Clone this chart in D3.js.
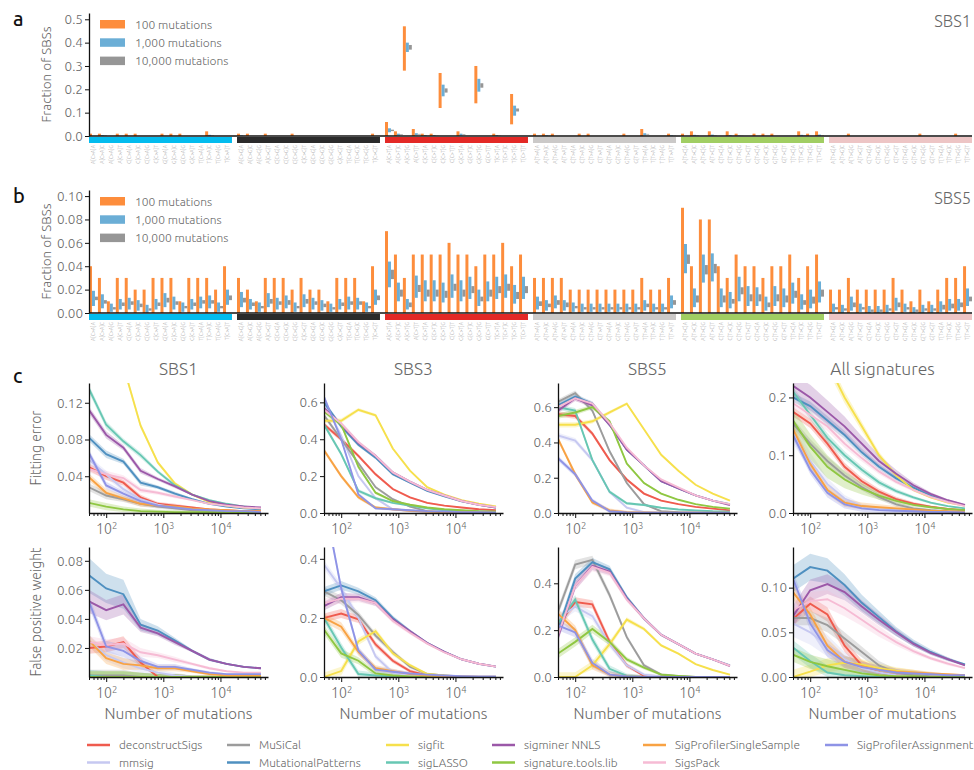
<!doctype html>
<html lang="en">
<head>
<meta charset="utf-8">
<script src="https://cdn.jsdelivr.net/npm/d3@7"></script>
<style>
  body { margin: 0; background: #fff; }
  text { font-family: Ubuntu, "Open Sans", "DejaVu Sans", sans-serif; font-weight: 300; }
</style>
</head>
<body>
<svg id="chart" width="974" height="770"></svg>
<script>
// ---- spectrum data (panels a, b) ----
var mutTypes = ["C>A", "C>G", "C>T", "T>A", "T>C", "T>G"];
var mutColors = ["#03bcee", "#2b2b2b", "#e32926", "#cbc9c8", "#a1ce63", "#edc5c5"];
var bases = ["A", "C", "G", "T"];
var sampleLabels = ["100 mutations", "1,000 mutations", "10,000 mutations"];
var sampleColors = ["#fd8d3c", "#6baed6", "#969696"];

// SBS1, ranges per category for 100 / 1,000 / 10,000 mutations
var sbs1Lo100 = [
  0,0,0,0,0,0,0,0,0,0,0,0,0,0,0,0,
  0,0,0,0,0,0,0,0,0,0,0,0,0,0,0,0,
  0,0,0.28,0,0,0,0.12,0,0,0,0.14,0,0,0,0.05,0,
  0,0,0,0,0,0,0,0,0,0,0,0,0,0,0,0,
  0,0,0,0,0,0,0,0,0,0,0,0,0,0,0,0,
  0,0,0,0,0,0,0,0,0,0,0,0,0,0,0,0];
var sbs1Hi100 = [
  0.01,0.01,0,0.01,0.01,0.01,0,0,0.01,0.01,0.01,0,0,0.02,0,0,
  0.01,0.01,0,0.01,0,0,0.01,0,0,0,0,0,0,0,0,0.01,
  0.06,0.02,0.47,0.03,0.01,0.01,0.27,0,0.02,0,0.30,0,0.01,0,0.18,0,
  0.01,0.01,0.01,0,0,0.01,0.01,0,0,0,0.01,0,0.03,0,0,0.01,
  0.01,0.02,0,0.02,0,0.02,0.01,0,0.01,0.01,0.01,0,0,0.02,0.01,0.02,
  0,0,0.01,0,0,0,0,0,0,0,0.01,0,0,0,0.01,0];
var sbs1Lo1k = [
  0,0,0,0,0,0,0,0,0,0,0,0,0,0,0,0,
  0,0,0,0,0,0,0,0,0,0,0,0,0,0,0,0,
  0.016,0.002,0.36,0.003,0,0,0.17,0,0.002,0,0.19,0,0,0,0.087,0,
  0,0,0,0,0,0,0,0,0,0,0,0,0.003,0,0,0,
  0,0,0,0,0,0,0,0,0,0,0,0,0,0,0,0,
  0,0,0,0,0,0,0,0,0,0,0,0,0,0,0,0];
var sbs1Hi1k = [
  0,0.004,0,0,0,0,0,0,0,0,0,0,0,0.005,0,0,
  0.003,0,0,0,0,0,0,0,0,0,0,0,0,0,0,0,
  0.033,0.010,0.40,0.012,0.004,0.004,0.22,0,0.010,0,0.245,0,0.004,0,0.13,0,
  0,0.003,0,0,0,0,0,0,0,0,0,0,0.012,0,0,0.003,
  0,0.005,0,0.006,0,0.004,0.002,0,0,0,0,0,0,0.005,0,0.006,
  0,0,0,0,0,0,0,0,0,0,0,0,0,0,0,0];
var sbs1Lo10k = [
  0,0.001,0,0,0,0,0,0,0,0,0,0,0,0.001,0,0,
  0,0,0,0,0,0,0,0,0,0,0,0,0,0,0,0,
  0.021,0.004,0.37,0.006,0.001,0.001,0.186,0,0.004,0,0.207,0,0.001,0,0.105,0,
  0,0,0,0,0,0,0,0,0,0,0,0,0.006,0,0,0,
  0,0.001,0,0.002,0,0.001,0,0,0,0,0,0,0,0.001,0,0.002,
  0,0,0,0,0,0,0,0,0,0,0,0,0,0,0,0];
var sbs1Hi10k = [
  0,0.003,0,0,0,0,0,0,0,0,0,0,0,0.003,0,0,
  0.001,0,0,0,0,0,0,0,0,0,0,0,0,0,0,0,
  0.027,0.007,0.39,0.009,0.002,0.002,0.204,0,0.007,0,0.226,0,0.002,0,0.118,0,
  0,0.001,0,0,0,0,0,0,0,0,0,0,0.009,0,0,0.001,
  0,0.003,0,0.004,0,0.002,0.001,0,0,0,0,0,0,0.003,0,0.004,
  0,0,0,0,0,0,0,0,0,0,0,0,0,0,0,0];

// SBS5
var sbs5Lo100 = [
  0,0,0,0,0,0,0,0,0,0,0,0,0,0,0,0,
  0,0,0,0,0,0,0,0,0,0,0,0,0,0,0,0,
  0,0,0,0,0,0,0,0,0,0,0,0,0,0,0,0,
  0,0,0,0,0,0,0,0,0,0,0,0,0,0,0,0,
  0,0,0,0,0,0,0,0,0,0,0,0,0,0,0,0,
  0,0,0,0,0,0,0,0,0,0,0,0,0,0,0,0];
var sbs5Hi100 = [
  0.04,0.03,0.01,0.03,0.03,0.02,0.02,0.03,0.03,0.03,0.01,0.03,0.03,0.03,0.02,0.04,
  0.03,0.02,0.01,0.03,0.03,0.03,0.02,0.03,0.02,0.02,0.01,0.03,0.03,0.03,0.01,0.04,
  0.07,0.05,0.03,0.05,0.05,0.05,0.05,0.06,0.05,0.05,0.04,0.05,0.05,0.06,0.04,0.05,
  0.03,0.03,0.03,0.03,0.02,0.02,0.02,0.02,0.02,0.02,0.02,0.02,0.03,0.02,0.02,0.03,
  0.09,0.04,0.08,0.08,0.04,0.03,0.05,0.04,0.04,0.03,0.04,0.04,0.05,0.03,0.04,0.05,
  0.02,0.02,0.03,0.02,0.02,0.02,0.02,0.03,0.02,0.01,0.02,0.01,0.02,0.03,0.03,0.04];
var sbs5Lo1k = [
  0.006,0.004,0.001,0.003,0.003,0.002,0,0.003,0.005,0.003,0.001,0.003,0.004,0.004,0.001,0.007,
  0.005,0.003,0.001,0.005,0.003,0.004,0.001,0.005,0.003,0.002,0.001,0.003,0.003,0.003,0.001,0.007,
  0.022,0.010,0.003,0.013,0.010,0.010,0.009,0.013,0.010,0.012,0.006,0.010,0.012,0.013,0.008,0.012,
  0.003,0.002,0.004,0.002,0.001,0.001,0.001,0.001,0.001,0.001,0.001,0.001,0.002,0.001,0.001,0.004,
  0.034,0.005,0.026,0.027,0.005,0.004,0.010,0.006,0.006,0.002,0.006,0.005,0.008,0.003,0.004,0.009,
  0.001,0,0.002,0.001,0,0,0,0.002,0.001,0,0,0,0.001,0.002,0.002,0.006];
var sbs5Hi1k = [
  0.019,0.016,0.008,0.012,0.013,0.011,0.007,0.012,0.017,0.014,0.009,0.012,0.014,0.015,0.009,0.020,
  0.018,0.012,0.009,0.017,0.013,0.015,0.009,0.016,0.013,0.011,0.008,0.012,0.014,0.013,0.009,0.020,
  0.044,0.026,0.012,0.032,0.028,0.028,0.026,0.033,0.028,0.031,0.020,0.027,0.031,0.033,0.024,0.031,
  0.014,0.011,0.015,0.011,0.009,0.008,0.008,0.008,0.008,0.008,0.008,0.008,0.011,0.008,0.008,0.015,
  0.059,0.021,0.050,0.051,0.021,0.018,0.031,0.023,0.022,0.014,0.023,0.021,0.026,0.016,0.020,0.027,
  0.008,0.007,0.014,0.008,0.006,0.006,0.007,0.013,0.008,0.005,0.007,0.007,0.010,0.012,0.012,0.021];
var sbs5Lo10k = [
  0.011,0.008,0.003,0.006,0.007,0.005,0.002,0.006,0.009,0.007,0.004,0.006,0.008,0.008,0.004,0.011,
  0.009,0.006,0.004,0.008,0.007,0.007,0.004,0.008,0.007,0.005,0.003,0.006,0.007,0.007,0.004,0.011,
  0.029,0.014,0.005,0.018,0.014,0.014,0.013,0.019,0.014,0.017,0.010,0.014,0.017,0.019,0.012,0.017,
  0.006,0.005,0.007,0.005,0.004,0.003,0.003,0.003,0.003,0.003,0.003,0.003,0.005,0.003,0.003,0.007,
  0.042,0.009,0.033,0.034,0.009,0.008,0.016,0.010,0.010,0.005,0.010,0.009,0.013,0.007,0.008,0.014,
  0.003,0.002,0.005,0.003,0.001,0.001,0.002,0.005,0.003,0.001,0.002,0.002,0.003,0.004,0.005,0.010];
var sbs5Hi10k = [
  0.014,0.011,0.005,0.009,0.010,0.008,0.004,0.009,0.013,0.010,0.006,0.009,0.011,0.011,0.006,0.015,
  0.013,0.009,0.006,0.012,0.010,0.011,0.006,0.012,0.010,0.008,0.005,0.009,0.010,0.010,0.006,0.015,
  0.037,0.020,0.009,0.024,0.020,0.020,0.019,0.025,0.020,0.023,0.014,0.020,0.023,0.025,0.018,0.023,
  0.010,0.008,0.011,0.009,0.006,0.005,0.005,0.005,0.005,0.005,0.005,0.005,0.008,0.005,0.005,0.011,
  0.050,0.015,0.041,0.042,0.015,0.012,0.022,0.016,0.016,0.009,0.016,0.015,0.019,0.011,0.014,0.020,
  0.005,0.004,0.009,0.005,0.003,0.003,0.004,0.009,0.005,0.003,0.004,0.004,0.007,0.008,0.009,0.014];

// ---- fitting benchmark data (panel c) ----
var nMutations = [50, 100, 200, 400, 800, 1600, 3200, 6400, 12800, 25600, 51200];
var tools = ["deconstructSigs", "mmsig", "MuSiCal", "MutationalPatterns", "sigfit", "sigLASSO",
             "sigminer NNLS", "signature.tools.lib", "SigProfilerSingleSample", "SigsPack", "SigProfilerAssignment"];
var toolColors = ["#ef5b4e", "#c6c8f1", "#9c9c9c", "#4f90c0", "#f6e04c", "#67c7b3",
                  "#9b58a8", "#8fc742", "#f8a243", "#f6bbd4", "#8e93e6"];
var colTitles = ["SBS1", "SBS3", "SBS5", "All signatures"];

var fitErrSBS1 = [
  [0.050,0.040,0.033,0.017,0.010,0.008,0.006,0.004,0.003,0.002,0.002],
  [0.058,0.042,0.026,0.015,0.009,0.006,0.004,0.003,0.002,0.0015,0.001],
  [0.028,0.019,0.015,0.010,0.007,0.005,0.003,0.002,0.0015,0.001,0.001],
  [0.082,0.064,0.056,0.033,0.028,0.021,0.015,0.010,0.007,0.005,0.004],
  [0.30,0.22,0.16,0.095,0.055,0.032,0.020,0.012,0.008,0.006,0.005],
  [0.135,0.096,0.078,0.063,0.045,0.030,0.020,0.014,0.010,0.007,0.005],
  [0.112,0.085,0.071,0.046,0.037,0.029,0.020,0.013,0.009,0.007,0.006],
  [0.011,0.007,0.004,0.002,0.0015,0.001,0.001,0.001,0.001,0.001,0.001],
  [0.039,0.022,0.016,0.010,0.008,0.007,0.005,0.004,0.003,0.002,0.002],
  [0.048,0.042,0.038,0.025,0.022,0.018,0.014,0.010,0.008,0.006,0.005],
  [0.065,0.030,0.021,0.013,0.008,0.006,0.004,0.003,0.002,0.002,0.001]];
var fitErrSBS3 = [
  [0.48,0.40,0.31,0.21,0.13,0.085,0.055,0.04,0.03,0.02,0.015],
  [0.60,0.42,0.20,0.08,0.02,0.01,0.005,0.003,0.002,0.001,0.001],
  [0.53,0.40,0.27,0.14,0.075,0.035,0.01,0.005,0.003,0.002,0.002],
  [0.60,0.47,0.37,0.30,0.21,0.165,0.12,0.09,0.063,0.044,0.03],
  [0.50,0.50,0.56,0.53,0.35,0.23,0.14,0.10,0.07,0.05,0.035],
  [0.48,0.32,0.12,0.08,0.055,0.04,0.025,0.015,0.01,0.008,0.006],
  [0.57,0.48,0.38,0.31,0.22,0.17,0.125,0.095,0.065,0.045,0.03],
  [0.55,0.48,0.25,0.11,0.065,0.045,0.03,0.02,0.015,0.01,0.008],
  [0.34,0.20,0.085,0.03,0.02,0.012,0.008,0.005,0.004,0.003,0.002],
  [0.56,0.485,0.385,0.31,0.22,0.17,0.125,0.095,0.065,0.045,0.032],
  [0.63,0.40,0.10,0.025,0.02,0.015,0.01,0.008,0.005,0.004,0.003]];
var fitErrSBS5 = [
  [0.56,0.55,0.45,0.30,0.19,0.11,0.07,0.05,0.035,0.025,0.015],
  [0.44,0.41,0.30,0.12,0.03,0.005,0.002,0.001,0.001,0.001,0.001],
  [0.63,0.68,0.58,0.35,0.17,0.05,0.01,0.005,0.003,0.002,0.002],
  [0.61,0.66,0.62,0.50,0.36,0.27,0.18,0.14,0.10,0.07,0.05],
  [0.50,0.50,0.52,0.57,0.62,0.475,0.33,0.24,0.16,0.11,0.07],
  [0.60,0.58,0.30,0.12,0.055,0.045,0.03,0.02,0.015,0.01,0.008],
  [0.58,0.65,0.61,0.50,0.36,0.27,0.18,0.14,0.10,0.07,0.045],
  [0.55,0.57,0.60,0.52,0.28,0.17,0.11,0.075,0.05,0.035,0.025],
  [0.42,0.22,0.06,0.015,0.005,0.003,0.002,0.001,0.001,0.001,0.001],
  [0.60,0.65,0.62,0.51,0.37,0.27,0.19,0.145,0.10,0.07,0.05],
  [0.31,0.22,0.07,0.01,0.003,0.002,0.001,0.001,0.001,0.001,0.001]];
var fitErrAll = [
  [0.175,0.155,0.12,0.08,0.055,0.037,0.024,0.016,0.011,0.007,0.005],
  [0.14,0.09,0.05,0.025,0.012,0.007,0.004,0.003,0.002,0.001,0.001],
  [0.155,0.12,0.09,0.065,0.045,0.028,0.015,0.008,0.005,0.003,0.002],
  [0.20,0.185,0.16,0.135,0.105,0.08,0.06,0.044,0.03,0.02,0.013],
  [0.40,0.33,0.26,0.20,0.15,0.10,0.065,0.04,0.027,0.018,0.013],
  [0.21,0.17,0.13,0.10,0.075,0.053,0.038,0.027,0.018,0.012,0.008],
  [0.22,0.20,0.175,0.15,0.12,0.09,0.068,0.048,0.033,0.022,0.014],
  [0.16,0.115,0.08,0.058,0.042,0.03,0.021,0.014,0.01,0.007,0.005],
  [0.145,0.085,0.04,0.018,0.012,0.01,0.008,0.006,0.004,0.003,0.002],
  [0.19,0.17,0.15,0.12,0.095,0.072,0.054,0.04,0.028,0.019,0.012],
  [0.135,0.075,0.035,0.015,0.008,0.005,0.004,0.003,0.002,0.002,0.001]];

var fpSBS1 = [
  [0.020,0.021,0.024,0.010,0,0,0,0,0,0,0],
  [0.025,0.015,0.010,0.006,0.003,0.001,0,0,0,0,0],
  [0.001,0.001,0.001,0,0,0,0,0,0,0,0],
  [0.070,0.061,0.057,0.036,0.032,0.025,0.018,0.012,0.009,0.007,0.006],
  [0,0,0,0,0,0,0,0,0,0,0],
  [0.001,0,0,0,0,0,0,0,0,0,0],
  [0.052,0.046,0.050,0.034,0.030,0.024,0.018,0.012,0.009,0.007,0.006],
  [0,0,0,0,0,0,0,0,0,0,0],
  [0.025,0.013,0.009,0.008,0.006,0.006,0.004,0.002,0.001,0.001,0.001],
  [0.024,0.022,0.023,0.017,0.015,0.012,0.009,0.006,0.004,0.003,0.003],
  [0.052,0.021,0.018,0.011,0.007,0.007,0.005,0.003,0.002,0.002,0.002]];
var fpSBS3 = [
  [0.20,0.215,0.195,0.11,0.055,0.02,0.005,0,0,0,0],
  [0.38,0.30,0.20,0.07,0.015,0.005,0.002,0,0,0,0],
  [0.29,0.26,0.21,0.14,0.085,0.035,0.01,0.005,0.002,0,0],
  [0.29,0.31,0.29,0.26,0.20,0.155,0.115,0.085,0.06,0.045,0.035],
  [0,0.02,0.12,0.155,0.08,0.04,0.01,0.005,0,0,0],
  [0.20,0.10,0.01,0.005,0.002,0,0,0,0,0,0],
  [0.24,0.27,0.27,0.25,0.195,0.155,0.115,0.085,0.06,0.045,0.035],
  [0.16,0.08,0.055,0.012,0.005,0.002,0,0,0,0,0],
  [0.20,0.17,0.085,0.03,0.02,0.01,0.005,0.003,0.002,0.001,0.001],
  [0.25,0.265,0.265,0.25,0.19,0.15,0.113,0.083,0.06,0.045,0.035],
  [0.60,0.30,0.09,0.025,0.018,0.012,0.008,0.005,0.003,0.002,0.002]];
var fpSBS5 = [
  [0.22,0.32,0.31,0.15,0.05,0.005,0,0,0,0,0],
  [0.25,0.30,0.26,0.14,0.05,0.01,0.002,0,0,0,0],
  [0.28,0.48,0.50,0.35,0.17,0.05,0.01,0.003,0,0,0],
  [0.20,0.42,0.49,0.46,0.34,0.25,0.18,0.14,0.10,0.075,0.05],
  [0,0,0.05,0.14,0.245,0.205,0.135,0.10,0.055,0.03,0.01],
  [0.23,0.33,0.16,0.035,0.005,0,0,0,0,0,0],
  [0.17,0.39,0.475,0.45,0.335,0.25,0.18,0.14,0.10,0.075,0.047],
  [0.10,0.15,0.205,0.15,0.075,0.04,0.01,0.005,0,0,0],
  [0.27,0.20,0.05,0.01,0.002,0,0,0,0,0,0],
  [0.18,0.39,0.47,0.445,0.33,0.25,0.18,0.14,0.10,0.075,0.048],
  [0.22,0.19,0.06,0.01,0.002,0,0,0,0,0,0]];
var fpAll = [
  [0.065,0.082,0.070,0.035,0.013,0.005,0.002,0.001,0,0,0],
  [0.06,0.05,0.035,0.02,0.01,0.005,0.002,0.001,0.001,0,0],
  [0.066,0.066,0.058,0.043,0.028,0.013,0.005,0.002,0.001,0.001,0],
  [0.11,0.123,0.119,0.103,0.083,0.067,0.051,0.038,0.028,0.02,0.014],
  [0,0.006,0.013,0.016,0.014,0.01,0.007,0.005,0.003,0.002,0.001],
  [0.033,0.018,0.005,0.002,0.001,0,0,0,0,0,0],
  [0.068,0.097,0.104,0.095,0.079,0.064,0.05,0.037,0.027,0.02,0.013],
  [0.025,0.017,0.012,0.008,0.004,0.002,0.001,0.001,0,0,0],
  [0.095,0.07,0.035,0.017,0.012,0.008,0.006,0.005,0.004,0.003,0.002],
  [0.075,0.085,0.087,0.077,0.064,0.051,0.039,0.029,0.021,0.015,0.01],
  [0.11,0.06,0.03,0.017,0.011,0.008,0.005,0.004,0.003,0.002,0.002]];

// confidence band half-widths: a default per panel, plus wider ones for some tools
var bandFitSBS1 = [0.004,0.004,0.003,0.003,0.002,0.002,0.001,0.001,0.0005,0.0005,0.0005];
var bandFitSBS3 = [0.012,0.012,0.010,0.008,0.006,0.005,0.004,0.003,0.002,0.002,0.001];
var bandFitSBS5 = [0.015,0.015,0.012,0.010,0.008,0.006,0.004,0.003,0.002,0.002,0.001];
var bandFitAll  = [0.008,0.008,0.008,0.007,0.006,0.005,0.004,0.003,0.002,0.001,0.001];
var bandFpSBS1  = [0.004,0.004,0.004,0.003,0.002,0.002,0.001,0.001,0.0005,0.0005,0.0005];
var bandFpSBS3  = [0.015,0.015,0.012,0.010,0.008,0.006,0.004,0.003,0.002,0.002,0.001];
var bandFpSBS5  = [0.020,0.020,0.018,0.015,0.010,0.008,0.006,0.004,0.003,0.002,0.002];
var bandFpAll   = [0.008,0.008,0.008,0.007,0.006,0.005,0.004,0.003,0.002,0.001,0.001];
var bandWide = {
  fitAll: { "sigminer NNLS": [0.02,0.022,0.02,0.017,0.013,0.01,0.007,0.005,0.003,0.002,0.001],
            "signature.tools.lib": [0.02,0.022,0.02,0.015,0.01,0.007,0.005,0.003,0.002,0.001,0.001],
            "mmsig": [0.02,0.015,0.01,0.006,0.004,0.003,0.002,0.001,0.001,0.001,0.001],
            "sigfit": [0.015,0.015,0.012,0.01,0.008,0.006,0.004,0.003,0.002,0.001,0.001] },
  fpSBS1: { "MutationalPatterns": [0.012,0.01,0.01,0.004,0.003,0.002,0.001,0.001,0.0005,0.0005,0.0005],
            "sigminer NNLS": [0.008,0.007,0.007,0.003,0.002,0.002,0.001,0.001,0.0005,0.0005,0.0005] },
  fpAll:  { "MutationalPatterns": [0.015,0.015,0.014,0.012,0.009,0.007,0.005,0.004,0.003,0.002,0.001],
            "sigminer NNLS": [0.012,0.012,0.011,0.009,0.007,0.006,0.004,0.003,0.002,0.002,0.001],
            "SigsPack": [0.01,0.01,0.01,0.009,0.007,0.006,0.004,0.003,0.002,0.002,0.001],
            "mmsig": [0.015,0.014,0.012,0.008,0.005,0.003,0.002,0.001,0.001,0.001,0.001] }
};

// ---- drawing ----
var svg = d3.select("#chart");
var textGrey = "#676767";

function panelLetter(t, x, y) {
  svg.append("text").attr("x", x).attr("y", y).attr("font-size", 20)
    .style("font-weight", 500).attr("fill", "#111").text(t);
}

var categories = [];
mutTypes.forEach(function(m) {
  bases.forEach(function(l) {
    bases.forEach(function(r) { categories.push({ type: m, label: l + "[" + m + "]" + r }); });
  });
});

var groupX = d3.scaleBand().domain(mutTypes).range([89, 972]).paddingInner(0.034);
var catX = d3.scaleBand().domain(d3.range(16)).range([0, groupX.bandwidth()]);
var subX = d3.scaleBand().domain([0, 1, 2]).range([0, catX.bandwidth()]);

function drawSpectrum(top, base, yMax, tickVals, fmt, ranges, name) {
  var y = d3.scaleLinear().domain([0, yMax]).range([base, top]);
  var g = svg.append("g");

  ranges.forEach(function(r, s) {
    g.append("g").selectAll("rect").data(categories).enter().append("rect")
      .attr("x", function(d, k) { return groupX(d.type) + catX(k % 16) + subX(s); })
      .attr("width", subX.bandwidth())
      .attr("y", function(d, k) { return y(r[1][k]); })
      .attr("height", function(d, k) { return Math.max(0, y(r[0][k]) - y(r[1][k])); })
      .attr("fill", sampleColors[s]);
  });

  // mutation type strips
  g.selectAll(".strip").data(mutTypes).enter().append("rect")
    .attr("x", function(d) { return groupX(d); }).attr("width", groupX.bandwidth())
    .attr("y", base + 1).attr("height", 6)
    .attr("fill", function(d, i) { return mutColors[i]; });

  // x axis line
  g.append("line").attr("x1", 89).attr("x2", 972).attr("y1", base).attr("y2", base)
    .attr("stroke", "#111").attr("stroke-width", 1.3);

  // category labels
  g.selectAll(".cat").data(categories).enter().append("text")
    .attr("transform", function(d, k) {
      var cx = groupX(d.type) + catX(k % 16) + catX.bandwidth() / 2;
      return "translate(" + cx + "," + (base + 9) + ") rotate(-90)";
    })
    .attr("text-anchor", "end").attr("dy", "0.35em")
    .attr("font-size", 5.2).attr("fill", "#a8a8a8")
    .text(function(d) { return d.label; });

  var ax = g.append("g").attr("transform", "translate(89,0)")
    .call(d3.axisLeft(y).tickValues(tickVals).tickFormat(d3.format(fmt)).tickSize(4).tickSizeOuter(0));
  ax.select(".domain").attr("stroke", "#111").attr("stroke-width", 1.3);
  ax.selectAll(".tick line").attr("stroke", "#111");
  ax.selectAll(".tick text").attr("font-size", 13.5).attr("fill", textGrey)
    .style("font-family", "Ubuntu, 'Open Sans', sans-serif").attr("x", -6);

  g.append("text").attr("transform", "translate(51," + ((top + base) / 2) + ") rotate(-90)")
    .attr("text-anchor", "middle").attr("font-size", 13.5).attr("fill", textGrey)
    .text("Fraction of SBSs");

  // legend
  sampleLabels.forEach(function(lab, s) {
    var ly = top + 7 + s * 18.3;
    g.append("rect").attr("x", 100).attr("y", ly).attr("width", 25).attr("height", 8.5)
      .attr("fill", sampleColors[s]);
    g.append("text").attr("x", 135).attr("y", ly + 8.5).attr("font-size", 12).attr("fill", textGrey)
      .text(lab);
  });

  g.append("text").attr("x", 971).attr("y", top + 14).attr("text-anchor", "end")
    .attr("font-size", 16.5).attr("fill", textGrey).text(name);
}

panelLetter("a", 13, 26);
drawSpectrum(13, 136, 0.527, [0, 0.1, 0.2, 0.3, 0.4, 0.5], ".1f",
  [[sbs1Lo100, sbs1Hi100], [sbs1Lo1k, sbs1Hi1k], [sbs1Lo10k, sbs1Hi10k]], "SBS1");

panelLetter("b", 13, 203);
drawSpectrum(190, 313, 0.1052, [0, 0.02, 0.04, 0.06, 0.08, 0.10], ".2f",
  [[sbs5Lo100, sbs5Hi100], [sbs5Lo1k, sbs5Hi1k], [sbs5Lo10k, sbs5Hi10k]], "SBS5");

panelLetter("c", 13, 383);

// panel c small multiples
var colX = [89, 324, 558, 793];
var colW = 179;
var rows = [
  { top: 383, base: 513, label: "Fitting error",
    panels: [
      { data: fitErrSBS1, band: bandFitSBS1, wide: null, yMax: 0.1415, ticks: [0.04, 0.08, 0.12], fmt: ".2f" },
      { data: fitErrSBS3, band: bandFitSBS3, wide: null, yMax: 0.705, ticks: [0, 0.2, 0.4, 0.6], fmt: ".1f" },
      { data: fitErrSBS5, band: bandFitSBS5, wide: null, yMax: 0.737, ticks: [0, 0.2, 0.4, 0.6], fmt: ".1f" },
      { data: fitErrAll, band: bandFitAll, wide: bandWide.fitAll, yMax: 0.225, ticks: [0, 0.1, 0.2], fmt: ".1f" }] },
  { top: 547, base: 677, label: "False positive weight",
    panels: [
      { data: fpSBS1, band: bandFpSBS1, wide: bandWide.fpSBS1, yMax: 0.0895, ticks: [0.02, 0.04, 0.06, 0.08], fmt: ".2f" },
      { data: fpSBS3, band: bandFpSBS3, wide: null, yMax: 0.44, ticks: [0, 0.2, 0.4], fmt: ".1f" },
      { data: fpSBS5, band: bandFpSBS5, wide: null, yMax: 0.555, ticks: [0, 0.2, 0.4], fmt: ".1f" },
      { data: fpAll, band: bandFpAll, wide: bandWide.fpAll, yMax: 0.1455, ticks: [0, 0.05, 0.1], fmt: ".2f" }] }
];

var majorTicks = [100, 1000, 10000];
var minorTicks = [50, 60, 70, 80, 90, 200, 300, 400, 500, 600, 700, 800, 900,
                  2000, 3000, 4000, 5000, 6000, 7000, 8000, 9000,
                  20000, 30000, 40000, 50000, 60000];

rows.forEach(function(row, ri) {
  row.panels.forEach(function(p, ci) {
    var x0 = colX[ci];
    var x = d3.scaleLog().domain([50, 68000]).range([x0, x0 + colW]);
    var y = d3.scaleLinear().domain([0, p.yMax]).range([row.base, row.top]);
    var g = svg.append("g");
    var clipId = "clip" + ri + "_" + ci;
    g.append("clipPath").attr("id", clipId).append("rect")
      .attr("x", x0).attr("y", row.top).attr("width", colW + 2).attr("height", row.base - row.top);
    var plot = g.append("g").attr("clip-path", "url(#" + clipId + ")");

    var area = d3.area().x(function(d) { return x(d.n); })
      .y0(function(d) { return y(Math.max(0, d.v - d.b)); })
      .y1(function(d) { return y(d.v + d.b); });
    var line = d3.line().x(function(d) { return x(d.n); }).y(function(d) { return y(d.v); });

    p.data.forEach(function(vals, ti) {
      var bw = (p.wide && p.wide[tools[ti]]) ? p.wide[tools[ti]] : p.band;
      var pts = nMutations.map(function(n, k) { return { n: n, v: vals[k], b: bw[k] }; });
      plot.append("path").attr("d", area(pts)).attr("fill", toolColors[ti]).attr("fill-opacity", 0.28);
    });
    p.data.forEach(function(vals, ti) {
      var pts = nMutations.map(function(n, k) { return { n: n, v: vals[k] }; });
      plot.append("path").attr("d", line(pts)).attr("fill", "none")
        .attr("stroke", toolColors[ti]).attr("stroke-width", 1.9);
    });

    // axes
    var yAx = g.append("g").attr("transform", "translate(" + x0 + ",0)")
      .call(d3.axisLeft(y).tickValues(p.ticks).tickFormat(d3.format(p.fmt)).tickSize(4).tickSizeOuter(0));
    yAx.select(".domain").attr("stroke", "#111").attr("stroke-width", 1.3);
    yAx.selectAll(".tick line").attr("stroke", "#111");
    yAx.selectAll(".tick text").attr("font-size", 13.5).attr("fill", textGrey).attr("x", -6);

    var minAx = g.append("g").attr("transform", "translate(0," + row.base + ")")
      .call(d3.axisBottom(x).tickValues(minorTicks).tickFormat("").tickSize(3).tickSizeOuter(0));
    minAx.select(".domain").attr("stroke", "#111").attr("stroke-width", 1.3);
    minAx.selectAll(".tick line").attr("stroke", "#111");
    var majAx = g.append("g").attr("transform", "translate(0," + row.base + ")")
      .call(d3.axisBottom(x).tickValues(majorTicks).tickFormat("").tickSize(5).tickSizeOuter(0));
    majAx.select(".domain").remove();
    majAx.selectAll(".tick line").attr("stroke", "#111");
    majAx.selectAll(".tick").append("text")
      .attr("y", 21).attr("text-anchor", "middle").attr("fill", textGrey).attr("font-size", 14)
      .each(function(d) {
        var t = d3.select(this);
        t.append("tspan").text("10");
        t.append("tspan").attr("dy", "-0.55em").attr("font-size", 9.5).text(Math.round(Math.log10(d)));
      });

    if (ri === 0) {
      g.append("text").attr("x", x0 + colW / 2).attr("y", 375).attr("text-anchor", "middle")
        .attr("font-size", 17.5).attr("fill", textGrey).text(colTitles[ci]);
    } else {
      g.append("text").attr("x", x0 + colW / 2).attr("y", 719).attr("text-anchor", "middle")
        .attr("font-size", 15.5).attr("fill", textGrey).text("Number of mutations");
    }
  });
  svg.append("text").attr("transform", "translate(41," + ((row.top + row.base) / 2) + ") rotate(-90)")
    .attr("text-anchor", "middle").attr("font-size", 14).attr("fill", textGrey).text(row.label);
});

// bottom legend, two rows, column-major
var legendColX = [87, 227, 386, 492, 643, 825];
var legendRowY = [745, 762.5];
tools.forEach(function(t, i) {
  var lx = legendColX[Math.floor(i / 2)];
  var ly = legendRowY[i % 2];
  if (i === 10) { lx = legendColX[5]; ly = legendRowY[0]; }
  svg.append("line").attr("x1", lx).attr("x2", lx + 23).attr("y1", ly).attr("y2", ly)
    .attr("stroke", toolColors[i]).attr("stroke-width", 2.5);
  svg.append("text").attr("x", lx + 32).attr("y", ly + 4).attr("font-size", 11.8)
    .attr("fill", textGrey).text(t);
});
</script>
</body>
</html>
